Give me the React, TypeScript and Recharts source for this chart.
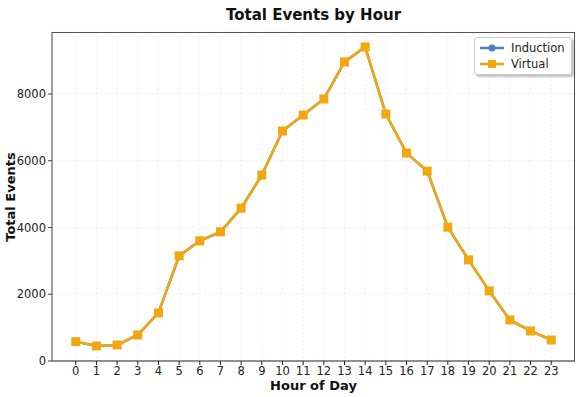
import React from 'react'
import { LineChart, Line, XAxis, YAxis, CartesianGrid } from 'recharts'

const hours = [0, 1, 2, 3, 4, 5, 6, 7, 8, 9, 10, 11, 12, 13, 14, 15, 16, 17, 18, 19, 20, 21, 22, 23]
const inductionEvents = [580, 450, 480, 780, 1440, 3150, 3600, 3870, 4580, 5570, 6890, 7370, 7850, 8960, 9410, 7400, 6230, 5690, 4010, 3030, 2100, 1230, 900, 630]
const virtualEvents = [580, 450, 480, 780, 1440, 3150, 3600, 3870, 4580, 5570, 6890, 7370, 7850, 8960, 9410, 7400, 6230, 5690, 4010, 3030, 2100, 1230, 900, 630]
const yTicks = [0, 2000, 4000, 6000, 8000]

const BLUE = '#4f7fb8'
const ORANGE = '#f0a80e'
const FONT = '"DejaVu Sans", sans-serif'

const data = hours.map((h, i) => ({ hour: h, induction: inductionEvents[i], virtual: virtualEvents[i] }))

const SquareDot = (props: any) => {
    const { cx, cy } = props
    if (cx == null || cy == null) return null
    return <rect x={cx - 4.5} y={cy - 4.5} width={9} height={9} fill={ORANGE} />
}

export default function App() {
    return (
        <div style={{ position: 'absolute', left: 0, top: 0, width: 579, height: 397, background: '#fff', fontFamily: FONT }}>
            <div style={{ position: 'absolute', left: 52, width: 523, top: 6, textAlign: 'center', fontWeight: 'bold', fontSize: 15, color: '#111' }}>
                Total Events by Hour
            </div>
            <LineChart width={579} height={397} data={data} margin={{ top: 32, right: 4, left: 0, bottom: 12 }}>
                <CartesianGrid stroke="#f0f0f0" strokeDasharray="2 2" />
                <XAxis
                    dataKey="hour"
                    type="number"
                    domain={[-1.15, 24.15]}
                    ticks={hours}
                    interval={0}
                    allowDataOverflow
                    height={24}
                    stroke="#222"
                    tickSize={4}
                    tick={{ fill: '#222', fontSize: 11.5, fontFamily: FONT }}
                />
                <YAxis
                    type="number"
                    domain={[0, 9858]}
                    ticks={yTicks}
                    allowDataOverflow
                    width={52}
                    stroke="#444"
                    tickSize={4}
                    tick={{ fill: '#222', fontSize: 11.5, fontFamily: FONT }}
                />
                <Line
                    dataKey="induction"
                    stroke={BLUE}
                    strokeWidth={2.5}
                    dot={{ r: 3, fill: BLUE, stroke: 'none' }}
                    isAnimationActive={false}
                />
                <Line
                    dataKey="virtual"
                    stroke={ORANGE}
                    strokeWidth={2.5}
                    dot={<SquareDot />}
                    activeDot={false}
                    isAnimationActive={false}
                />
            </LineChart>
            <div style={{ position: 'absolute', left: 52, top: 32, width: 522, height: 328, border: '1px solid #555', borderBottom: 'none', borderLeft: 'none', pointerEvents: 'none' }} />
            <div style={{ position: 'absolute', left: 52, width: 523, top: 378, textAlign: 'center', fontWeight: 'bold', fontSize: 13, color: '#111' }}>
                Hour of Day
            </div>
            <div style={{ position: 'absolute', left: 10, top: 197, transform: 'translate(-50%, -50%) rotate(-90deg)', whiteSpace: 'nowrap', fontWeight: 'bold', fontSize: 13, color: '#111' }}>
                Total Events
            </div>
            <div style={{ position: 'absolute', left: 474, top: 37, width: 96, height: 36, border: '1px solid #ccc', borderRadius: 3, background: '#fff', boxShadow: '2px 2px 2px rgba(0,0,0,0.25)', fontSize: 11.5, color: '#222' }}>
                <div style={{ position: 'absolute', left: 4, top: 3, display: 'flex', alignItems: 'center' }}>
                    <svg width={26} height={12}>
                        <line x1={1} y1={6} x2={25} y2={6} stroke={BLUE} strokeWidth={2.5} />
                        <circle cx={13} cy={6} r={3.5} fill={BLUE} />
                    </svg>
                    <span style={{ marginLeft: 6 }}>Induction</span>
                </div>
                <div style={{ position: 'absolute', left: 4, top: 19, display: 'flex', alignItems: 'center' }}>
                    <svg width={26} height={12}>
                        <line x1={1} y1={6} x2={25} y2={6} stroke={ORANGE} strokeWidth={2.5} />
                        <rect x={9} y={2} width={8} height={8} fill={ORANGE} />
                    </svg>
                    <span style={{ marginLeft: 6 }}>Virtual</span>
                </div>
            </div>
        </div>
    )
}
